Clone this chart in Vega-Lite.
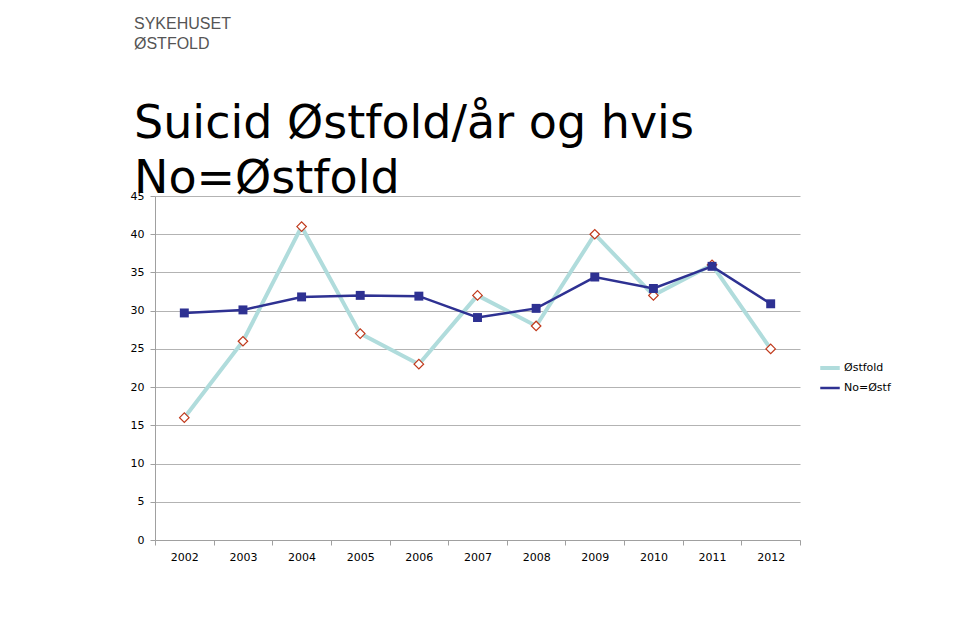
{
  "$schema": "https://vega.github.io/schema/vega-lite/v6.json",
  "autosize": {"type": "none"},
  "width": 645,
  "height": 344,
  "padding": {"left": 155, "top": 196, "right": 160, "bottom": 104},
  "background": "#ffffff",
  "title": {
    "text": ["SYKEHUSET", "ØSTFOLD"],
    "subtitle": ["Suicid Østfold/år og hvis", "No=Østfold"],
    "anchor": "start",
    "frame": "group",
    "dx": -21,
    "offset": -12,
    "font": "Liberation Sans",
    "fontSize": 16,
    "fontWeight": "normal",
    "lineHeight": 20,
    "color": "#555555",
    "subtitleFont": "DejaVu Sans",
    "subtitleFontSize": 46,
    "subtitleColor": "#000000",
    "subtitleLineHeight": 55,
    "subtitlePadding": 50
  },
  "data": {
    "values": [
      {"year": "2002", "series": "Østfold", "value": 16},
      {"year": "2003", "series": "Østfold", "value": 26},
      {"year": "2004", "series": "Østfold", "value": 41},
      {"year": "2005", "series": "Østfold", "value": 27},
      {"year": "2006", "series": "Østfold", "value": 23},
      {"year": "2007", "series": "Østfold", "value": 32},
      {"year": "2008", "series": "Østfold", "value": 28},
      {"year": "2009", "series": "Østfold", "value": 40},
      {"year": "2010", "series": "Østfold", "value": 32},
      {"year": "2011", "series": "Østfold", "value": 36},
      {"year": "2012", "series": "Østfold", "value": 25},
      {"year": "2002", "series": "No=Østf", "value": 29.7},
      {"year": "2003", "series": "No=Østf", "value": 30.1},
      {"year": "2004", "series": "No=Østf", "value": 31.8},
      {"year": "2005", "series": "No=Østf", "value": 32.0},
      {"year": "2006", "series": "No=Østf", "value": 31.9},
      {"year": "2007", "series": "No=Østf", "value": 29.1},
      {"year": "2008", "series": "No=Østf", "value": 30.3},
      {"year": "2009", "series": "No=Østf", "value": 34.4},
      {"year": "2010", "series": "No=Østf", "value": 32.9},
      {"year": "2011", "series": "No=Østf", "value": 35.8},
      {"year": "2012", "series": "No=Østf", "value": 30.9}
    ]
  },
  "encoding": {
    "x": {
      "field": "year", "type": "ordinal", "title": null,
      "axis": {
        "labelAngle": 0, "labelFont": "DejaVu Sans", "labelFontSize": 11,
        "labelColor": "#000000", "labelPadding": 6, "domainColor": "#a0a0a0",
        "tickColor": "#a0a0a0", "tickSize": 5, "tickBand": "extent", "grid": false
      }
    },
    "y": {
      "field": "value", "type": "quantitative", "title": null,
      "scale": {"domain": [0, 45], "nice": false, "zero": true},
      "axis": {
        "values": [0, 5, 10, 15, 20, 25, 30, 35, 40, 45],
        "labelFont": "DejaVu Sans", "labelFontSize": 11, "labelColor": "#000000",
        "labelPadding": 6, "tickSize": 5, "tickColor": "#a0a0a0",
        "domainColor": "#a0a0a0", "gridColor": "#b3b3b3", "gridWidth": 1
      }
    }
  },
  "layer": [
    {
      "mark": {"type": "line"},
      "encoding": {
        "color": {
          "field": "series", "type": "nominal",
          "scale": {"domain": ["Østfold", "No=Østf"], "range": ["#b0dcdc", "#2e3192"]},
          "legend": {
            "title": null, "orient": "none", "legendX": 663, "legendY": 160,
            "symbolType": "stroke", "symbolSize": 380, "symbolStrokeWidth": 3,
            "labelFont": "DejaVu Sans", "labelFontSize": 11, "labelColor": "#000000",
            "labelOffset": 2, "rowPadding": 1
          }
        },
        "strokeWidth": {
          "field": "series", "type": "nominal",
          "scale": {"domain": ["Østfold", "No=Østf"], "range": [4, 2.5]},
          "legend": null
        }
      }
    },
    {
      "transform": [{"filter": "datum.series === 'Østfold'"}],
      "mark": {"type": "point", "shape": "diamond", "filled": true, "fill": "#ffffff", "stroke": "#c0391b", "strokeWidth": 1.2, "size": 90, "opacity": 1}
    },
    {
      "transform": [{"filter": "datum.series === 'No=Østf'"}],
      "mark": {"type": "point", "shape": "square", "filled": true, "fill": "#2e3192", "size": 80, "opacity": 1}
    }
  ],
  "config": {"view": {"stroke": null}}
}
